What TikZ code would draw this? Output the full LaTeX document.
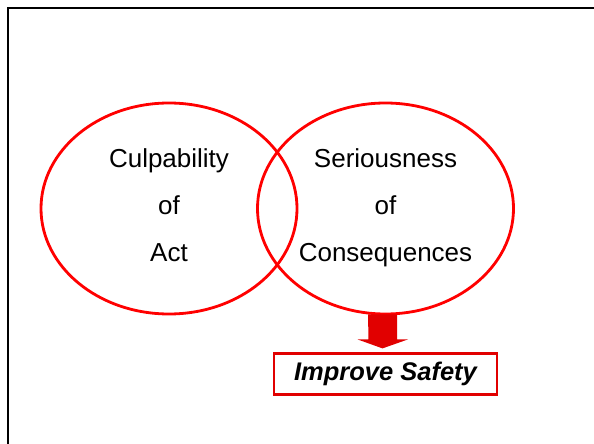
\documentclass[tikz,border=0pt]{standalone}
\usepackage{fontspec}
\setmainfont{Liberation Sans}
\usetikzlibrary{positioning,shapes.geometric}
\definecolor{ringred}{RGB}{255,0,0}
\definecolor{boxred}{RGB}{225,0,0}
\tikzset{
	ring/.style={shape=ellipse,draw=ringred,line width=2.8pt,minimum width=256pt,minimum height=211pt,inner sep=0pt},
	caption/.style={align=center,text depth=0pt,font=\fontsize{26}{47}\selectfont},
	outcome/.style={draw=boxred,line width=2.6pt,minimum width=223pt,minimum height=41pt,font=\fontsize{25.5}{30}\selectfont\bfseries\itshape}
}

\begin{document}
\begin{tikzpicture}[x=1pt,y=-1pt,node distance=37pt]
    \useasboundingbox (0,0) rectangle (594,444);
    \clip (0,0) rectangle (594,444);
    \draw[line width=2.6pt] (8,460) -- (8,8) -- (610,8);

    \node[ring] (culp) at (169,208.5) {};
    \node[ring] (seri) at (385.5,208.5) {};
    \node[caption] (culptxt) at ([yshift=3pt]culp.center) {Culpability\\of\\Act};
    \node[caption] (seritxt) at ([yshift=3pt]seri.center) {Seriousness\\of\\Consequences};

    \node[outcome, below=of seri] (safety) {Improve Safety};

    % block arrow down to the box
    \coordinate (tip) at ([xshift=-3pt,yshift=4pt]safety.north);
    \fill[boxred] ([xshift=-3pt]seri.south) ++(-14.5,-1) -- ++(29,0) -- ++(0,25)
        -- ++(11,0) -- (tip) -- ++(-25,-9) -- ++(11,0) -- cycle;
\end{tikzpicture}
\end{document}
